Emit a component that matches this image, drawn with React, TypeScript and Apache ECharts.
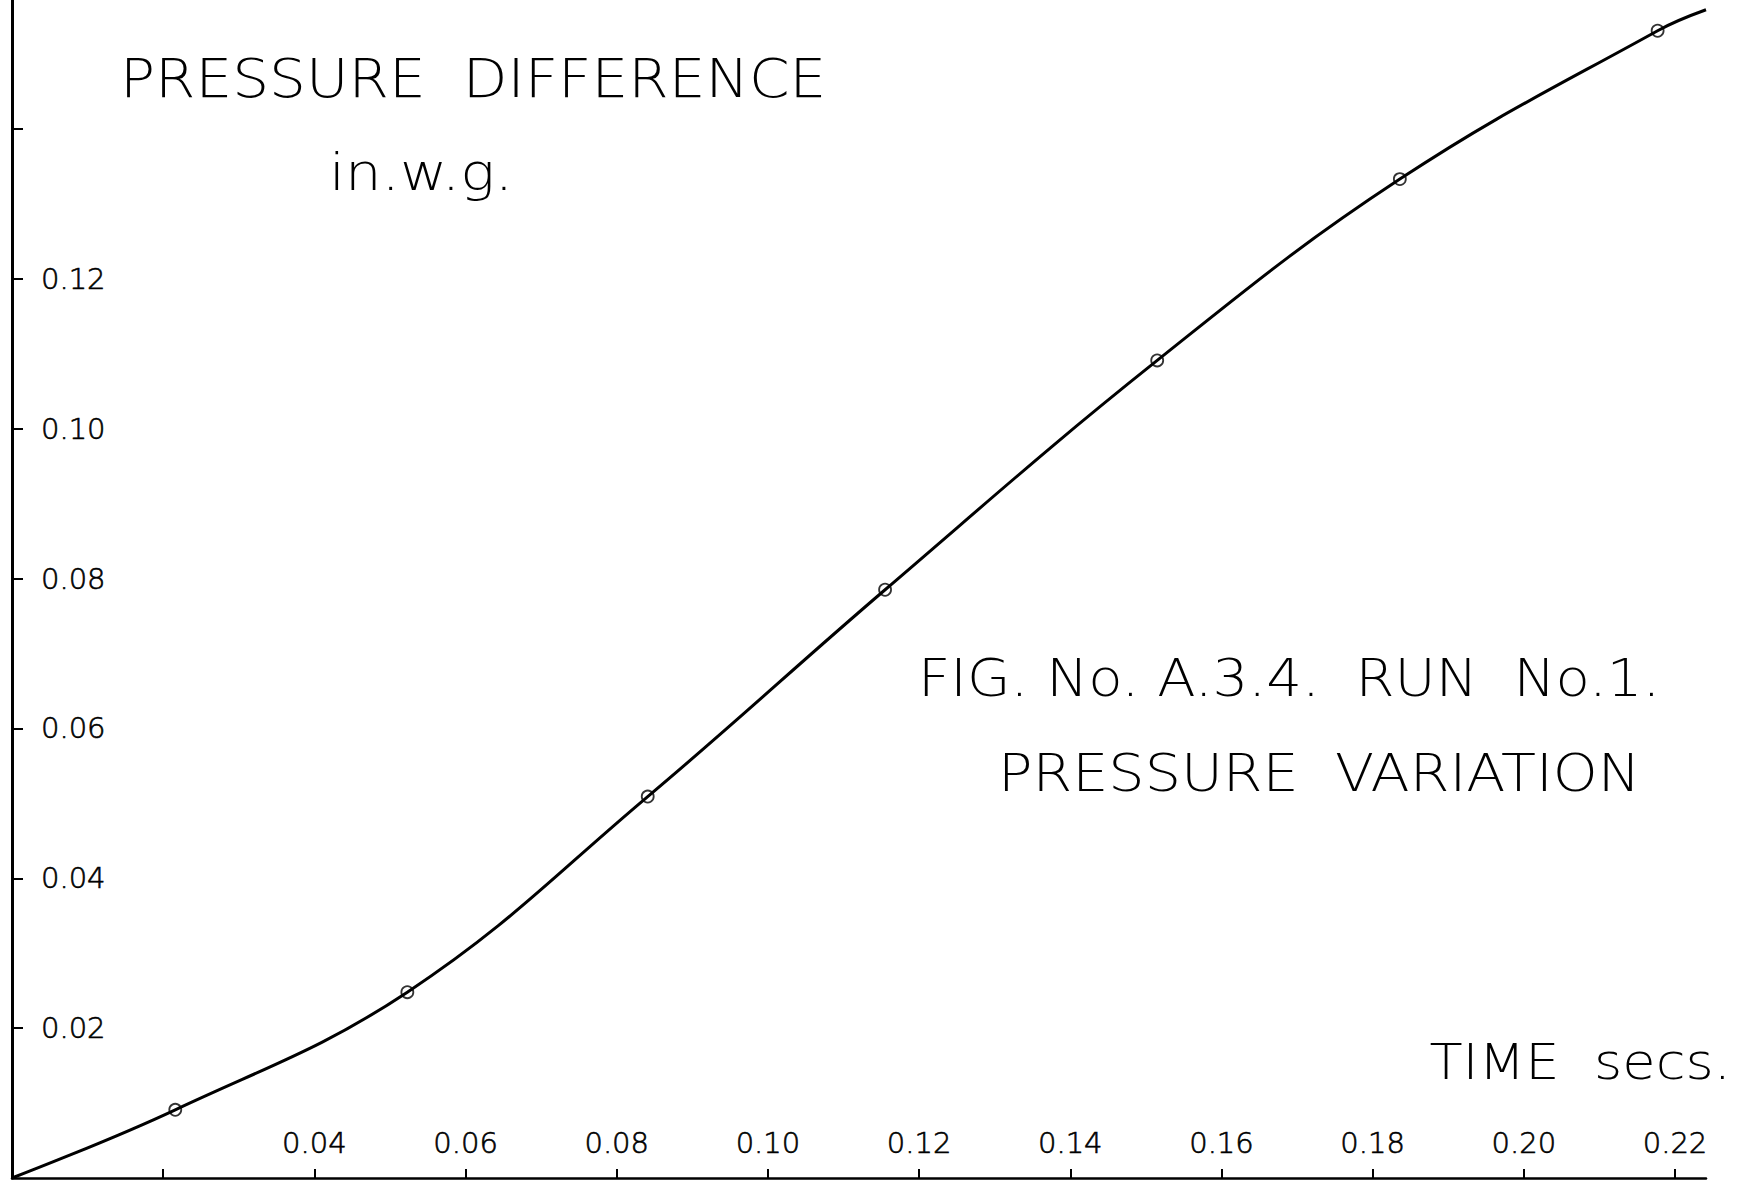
import React, { useEffect, useRef } from "react";
import * as echarts from "echarts";

// Measured points (time in secs, pressure difference in in.w.g.)
const timeValues = [0.0216, 0.0523, 0.0841, 0.1155, 0.1515, 0.1836, 0.2177];
const pressureValues = [0.0091, 0.0248, 0.0509, 0.0785, 0.1091, 0.1333, 0.1531];
// Faired curve start and end (curve drawn through origin and past last point)
const curveStart = [0, 0];
const curveEnd = [0.2241, 0.1559];

const xTickValues = [0.02, 0.04, 0.06, 0.08, 0.1, 0.12, 0.14, 0.16, 0.18, 0.2, 0.22];
const xLabelValues = [0.04, 0.06, 0.08, 0.1, 0.12, 0.14, 0.16, 0.18, 0.2, 0.22];
const yTickValues = [0.02, 0.04, 0.06, 0.08, 0.1, 0.12, 0.14];
const yLabelValues = [0.02, 0.04, 0.06, 0.08, 0.1, 0.12];

const FONT = "'DejaVu Sans', sans-serif";

export default function App() {
  const ref = useRef<HTMLDivElement>(null);
  useEffect(() => {
    document.body.style.margin = "0";
    if (!ref.current) return;
    const chart = echarts.init(ref.current, undefined, { renderer: "svg" });
    const points = timeValues.map((t, i) => [t, pressureValues[i]]);
    const curve = [curveStart, ...points, curveEnd];
    const labelStyle = {
      color: "#000",
      fontSize: 29,
      fontFamily: FONT,
      fontWeight: 200,
      textBorderColor: "#000",
      textBorderWidth: 0.6,
    };
    chart.setOption({
      animation: false,
      backgroundColor: "#fff",
      grid: { left: 12, right: 33, top: 0, bottom: 3, containLabel: false },
      xAxis: {
        type: "value",
        min: 0,
        max: 0.2241,
        splitLine: { show: false },
        axisLine: { show: true, onZero: false, lineStyle: { color: "#000", width: 2.5 } },
        axisTick: {
          show: true,
          inside: true,
          length: 9,
          customValues: xTickValues,
          lineStyle: { color: "#000", width: 2 },
        },
        axisLabel: {
          show: true,
          inside: true,
          margin: 21,
          customValues: xLabelValues,
          formatter: (v: number) => v.toFixed(2),
          ...labelStyle,
        },
      },
      yAxis: {
        type: "value",
        min: 0,
        max: 0.1572,
        splitLine: { show: false },
        axisLine: { show: true, onZero: false, lineStyle: { color: "#000", width: 3 } },
        axisTick: {
          show: true,
          inside: true,
          length: 11,
          customValues: yTickValues,
          lineStyle: { color: "#000", width: 2 },
        },
        axisLabel: {
          show: true,
          inside: true,
          margin: 29,
          customValues: yLabelValues,
          formatter: (v: number) => v.toFixed(2),
          ...labelStyle,
        },
      },
      series: [
        {
          name: "curve",
          type: "line",
          data: curve,
          smooth: 0.4,
          showSymbol: false,
          lineStyle: { color: "#000", width: 3 },
          silent: true,
        },
        {
          name: "measured",
          type: "scatter",
          data: points,
          symbol: "circle",
          symbolSize: 12,
          itemStyle: { color: "rgba(255,255,255,0)", borderColor: "#000", borderWidth: 1.8 },
          silent: true,
        },
      ],
      graphic: [
        {
          type: "text",
          x: 120,
          y: 78,
          scaleX: 1.077,
          style: {
            text: "PRESSURE  DIFFERENCE",
            font: `200 54px ${FONT}`,
            fill: "#000",
            align: "left",
            verticalAlign: "middle",
          },
        },
        {
          type: "text",
          x: 329,
          y: 172,
          scaleX: 1.11,
          style: {
            text: "in.w.g.",
            font: `200 52px ${FONT}`,
            fill: "#000",
            align: "left",
            verticalAlign: "middle",
          },
        },
        {
          type: "text",
          x: 918,
          y: 678,
          scaleX: 1.081,
          style: {
            text: "FIG. No. A.3.4.  RUN  No.1.",
            font: `200 52px ${FONT}`,
            fill: "#000",
            align: "left",
            verticalAlign: "middle",
          },
        },
        {
          type: "text",
          x: 998,
          y: 773,
          scaleX: 1.1,
          style: {
            text: "PRESSURE  VARIATION",
            font: `200 52px ${FONT}`,
            fill: "#000",
            align: "left",
            verticalAlign: "middle",
          },
        },
        {
          type: "text",
          x: 1731,
          y: 1062,
          scaleX: 1.085,
          style: {
            text: "TIME  secs.",
            font: `200 50px ${FONT}`,
            fill: "#000",
            align: "right",
            verticalAlign: "middle",
          },
        },
      ],
    });
    return () => chart.dispose();
  }, []);
  return (
    <div
      ref={ref}
      style={{ position: "absolute", left: 0, top: 0, width: 1739, height: 1181 }}
    />
  );
}
